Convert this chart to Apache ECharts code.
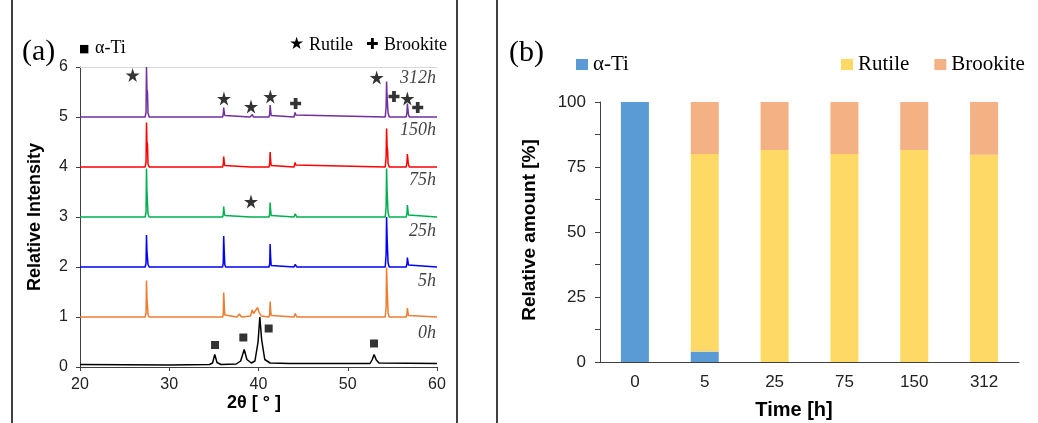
<!DOCTYPE html>
<html>
<head>
<meta charset="utf-8">
<title>XRD / phase amount</title>
<script src="https://cdn.jsdelivr.net/npm/echarts@6/dist/echarts.min.js"></script>
<style>
  html, body { margin: 0; padding: 0; background: #fff; }
  #main { width: 1038px; height: 423px; }
</style>
</head>
<body>
<div id="main"></div>
<script>
// (a) XRD patterns [2theta, relative intensity]
var t0 = [[20,0.05],[30,0.04],[34.5,0.05],[34.85,0.08],[35.1,0.25],[35.35,0.09],[35.8,0.05],[37.5,0.06],
  [38.0,0.12],[38.4,0.35],[38.7,0.15],[39.2,0.08],[39.6,0.12],[39.95,0.5],[40.15,1.0],[40.35,0.55],
  [40.7,0.15],[41.3,0.08],[43.5,0.07],[43.7,0.09],[43.9,0.07],[52.5,0.07],[52.75,0.15],[52.95,0.25],
  [53.2,0.14],[53.5,0.08],[60,0.07]];
var t5 = [[20,1.0],[27.3,1.0],[27.4,1.08],[27.45,1.73],[27.5,1.38],[27.56,1.35],[27.62,1.05],[27.75,1.0],
  [35.98,1.0],[36.05,1.05],[36.1,1.49],[36.16,1.27],[36.22,1.04],[36.32,1.0],
  [37.6,1.0],[37.85,1.06],[38.1,1.0],
  [39.1,1.02],[39.3,1.14],[39.45,1.07],[39.65,1.08],[39.9,1.19],[40.05,1.1],[40.3,1.02],
  [41.18,1.0],[41.26,1.06],[41.3,1.31],[41.36,1.15],[41.42,1.03],[41.52,1.0],
  [43.98,1.0],[44.1,1.07],[44.18,1.03],[44.3,1.0],
  [52.2,1.0],[52.4,1.04],[52.6,1.0],
  [54.2,1.0],[54.3,1.2],[54.35,1.99],[54.41,1.62],[54.46,1.58],[54.52,1.08],[54.65,1.0],
  [56.55,1.0],[56.64,1.06],[56.68,1.18],[56.74,1.1],[56.8,1.03],[56.9,1.0],[60,1.0]];
var t25 = [[20,2.0],[27.3,2.0],[27.4,2.08],[27.45,2.64],[27.5,2.32],[27.56,2.3],[27.62,2.05],[27.75,2.0],
  [35.98,2.0],[36.05,2.08],[36.1,2.62],[36.16,2.32],[36.22,2.05],[36.32,2.0],
  [39.1,2.0],[39.2,2.04],[39.3,2.0],
  [41.18,2.0],[41.26,2.07],[41.3,2.46],[41.36,2.2],[41.42,2.03],[41.52,2.0],
  [43.98,2.0],[44.1,2.05],[44.18,2.02],[44.3,2.0],
  [54.2,2.0],[54.3,2.25],[54.35,3.0],[54.41,2.58],[54.46,2.55],[54.52,2.08],[54.65,2.0],
  [56.55,2.0],[56.64,2.07],[56.68,2.19],[56.74,2.12],[56.8,2.04],[56.9,2.0],[60,2.0]];
var t75 = [[20,3.0],[27.3,3.0],[27.4,3.1],[27.45,3.97],[27.5,3.52],[27.56,3.5],[27.62,3.06],[27.75,3.0],
  [35.98,3.0],[36.05,3.05],[36.1,3.21],[36.16,3.1],[36.22,3.03],[36.32,3.0],
  [39.1,3.0],[39.2,3.04],[39.3,3.0],
  [41.18,3.0],[41.26,3.07],[41.3,3.29],[41.36,3.14],[41.42,3.03],[41.52,3.0],
  [43.98,3.0],[44.1,3.06],[44.18,3.03],[44.3,3.0],
  [54.2,3.0],[54.3,3.2],[54.35,3.97],[54.41,3.52],[54.46,3.5],[54.52,3.08],[54.65,3.0],
  [56.55,3.0],[56.64,3.08],[56.68,3.24],[56.74,3.14],[56.8,3.04],[56.9,3.0],[60,3.0]];
var t150 = [[20,4.0],[27.3,4.0],[27.4,4.1],[27.45,4.89],[27.5,4.5],[27.56,4.45],[27.62,4.06],[27.75,4.0],
  [35.98,4.0],[36.05,4.05],[36.1,4.21],[36.16,4.1],[36.22,4.03],[36.32,4.0],
  [39.1,4.0],[39.2,4.03],[39.3,4.0],
  [41.18,4.0],[41.26,4.08],[41.3,4.3],[41.36,4.14],[41.42,4.03],[41.52,4.0],
  [43.98,4.0],[44.1,4.09],[44.18,4.04],[44.3,4.0],
  [54.2,4.0],[54.3,4.2],[54.35,4.77],[54.41,4.4],[54.46,4.35],[54.52,4.07],[54.65,4.0],
  [56.55,4.0],[56.64,4.1],[56.68,4.26],[56.74,4.15],[56.8,4.05],[56.9,4.0],[60,4.0]];
var t312 = [[20,5.0],[27.3,5.0],[27.4,5.1],[27.45,6.0],[27.5,5.55],[27.56,5.5],[27.62,5.08],[27.75,5.0],
  [35.98,5.0],[36.05,5.06],[36.1,5.19],[36.16,5.1],[36.22,5.03],[36.32,5.0],
  [39.05,5.0],[39.15,5.04],[39.25,5.02],[39.32,5.05],[39.42,5.0],
  [41.18,5.0],[41.26,5.07],[41.3,5.24],[41.36,5.13],[41.42,5.03],[41.52,5.0],
  [43.98,5.0],[44.1,5.09],[44.18,5.04],[44.3,5.0],
  [54.2,5.0],[54.3,5.2],[54.35,5.71],[54.41,5.4],[54.46,5.36],[54.52,5.08],[54.65,5.0],
  [56.55,5.0],[56.64,5.1],[56.68,5.27],[56.74,5.16],[56.8,5.05],[56.9,5.0],[60,5.0]];

var curveNames = ['0h', '5h', '25h', '75h', '150h', '312h'];
var curveColors = ['#000000', '#ED7D31', '#0000FF', '#00B050', '#FF0000', '#7030A0'];
var curveLabelY = [0.67, 1.71, 2.71, 3.74, 4.74, 5.78];

// phase markers
var alphaTiMarks = [[35.13,0.44],[38.3,0.59],[41.14,0.77],[52.94,0.47]];
var rutileMarks = [[25.9,5.84],[36.13,5.37],[39.16,5.21],[41.33,5.41],[53.24,5.79],[56.68,5.37],[39.16,3.31]];
var brookiteMarks = [[44.16,5.27],[55.18,5.41],[57.84,5.19]];

// (b) relative amount [%]
var times = ['0', '5', '25', '75', '150', '312'];
var alphaTi = [100, 4, 0, 0, 0, 0];
var rutile = [0, 76, 81.5, 80, 81.5, 79.7];
var brookite = [0, 20, 18.5, 20, 18.5, 20.3];

var starPath = 'path://M50,0L61,35L98,35L68,57L79,91L50,70L21,91L32,57L2,35L39,35Z';
var crossPath = 'path://M33,0H67V33H100V67H67V100H33V67H0V33H33Z';

var sans = 'Liberation Sans';
var serif = 'Liberation Serif';
var axisCol = '#404040';

var traces = [t0, t5, t25, t75, t150, t312];
var series = traces.map(function (d, i) {
  return {
    name: curveNames[i], type: 'line', xAxisIndex: 0, yAxisIndex: 0,
    data: d, showSymbol: false, clip: true,
    lineStyle: { color: curveColors[i], width: 1.5 }, silent: true
  };
});

series.push({
  name: 'labels', type: 'scatter', xAxisIndex: 0, yAxisIndex: 0, symbolSize: 0, clip: false,
  data: curveLabelY.map(function (y, i) { return [59.9, y, curveNames[i]]; }),
  label: {
    show: true, position: 'inside', align: 'right', verticalAlign: 'middle',
    formatter: function (p) { return p.data[2]; },
    fontFamily: serif, fontStyle: 'italic', fontSize: 18, color: '#111'
  }
});
series.push({ name: 'mTi', type: 'scatter', xAxisIndex: 0, yAxisIndex: 0, symbol: 'rect', symbolSize: 8,
  data: alphaTiMarks, itemStyle: { color: '#000' }, clip: false });
series.push({ name: 'mRutile', type: 'scatter', xAxisIndex: 0, yAxisIndex: 0, symbol: starPath, symbolSize: 14,
  data: rutileMarks, itemStyle: { color: '#000' }, clip: false });
series.push({ name: 'mBrookite', type: 'scatter', xAxisIndex: 0, yAxisIndex: 0, symbol: crossPath, symbolSize: 11,
  data: brookiteMarks, itemStyle: { color: '#000' }, clip: false });

series.push({ name: 'α-Ti', type: 'bar', xAxisIndex: 2, yAxisIndex: 1, stack: 'amt', barWidth: 28,
  data: alphaTi, itemStyle: { color: '#5B9BD5' } });
series.push({ name: 'Rutile', type: 'bar', xAxisIndex: 2, yAxisIndex: 1, stack: 'amt', barWidth: 28,
  data: rutile, itemStyle: { color: '#FFD966' } });
series.push({ name: 'Brookite', type: 'bar', xAxisIndex: 2, yAxisIndex: 1, stack: 'amt', barWidth: 28,
  data: brookite, itemStyle: { color: '#F4B183' } });

function txt(s, x, y, font, opts) {
  var el = {
    type: 'text', x: x, y: y,
    style: { text: s, font: font, fill: '#000', textAlign: 'left', textVerticalAlign: 'middle',
      align: 'left', verticalAlign: 'middle' }
  };
  if (opts && opts.align) { el.style.textAlign = opts.align; el.style.align = opts.align; }
  if (opts && opts.rot) { el.rotation = opts.rot; }
  return el;
}
function vline(x) {
  return { type: 'line', shape: { x1: x, y1: 0, x2: x, y2: 423 }, style: { stroke: '#000', lineWidth: 1.5 } };
}

var chart = echarts.init(document.getElementById('main'));
var option = {
  animation: false,
  backgroundColor: '#fff',
  grid: [
    { left: 80, top: 67, width: 357, height: 300 },
    { left: 600, top: 102, width: 419, height: 260 }
  ],
  xAxis: [
    { type: 'value', gridIndex: 0, min: 20, max: 60, interval: 10,
      axisLine: { lineStyle: { color: axisCol } },
      axisTick: { length: 4, lineStyle: { color: axisCol } },
      axisLabel: { margin: 10, fontFamily: sans, fontSize: 16, color: '#222' },
      splitLine: { show: false } },
    { type: 'value', gridIndex: 0, min: 20, max: 60, position: 'top',
      axisLine: { lineStyle: { color: '#d9d9d9' } },
      axisTick: { show: false }, axisLabel: { show: false }, splitLine: { show: false } },
    { type: 'category', gridIndex: 1, data: times,
      axisLine: { lineStyle: { color: axisCol } },
      axisTick: { length: 5, lineStyle: { color: axisCol } },
      axisLabel: { margin: 12, fontFamily: sans, fontSize: 17, color: '#222' } }
  ],
  yAxis: [
    { type: 'value', gridIndex: 0, min: 0, max: 6, interval: 1,
      axisLine: { show: true, lineStyle: { color: axisCol } },
      axisTick: { show: true, length: 4, lineStyle: { color: axisCol } },
      axisLabel: { margin: 12, fontFamily: sans, fontSize: 16, color: '#222' },
      splitLine: { show: false } },
    { type: 'value', gridIndex: 1, min: 0, max: 100, interval: 12.5,
      axisLine: { show: true, lineStyle: { color: axisCol } },
      axisTick: { show: true, length: 5, lineStyle: { color: axisCol } },
      axisLabel: { margin: 14, fontFamily: sans, fontSize: 17, color: '#222',
        formatter: function (v) { return v % 25 === 0 ? v : ''; } },
      splitLine: { show: false } }
  ],
  legend: [
    { data: ['α-Ti'], left: 571, top: 49, itemWidth: 12, itemHeight: 11, selectedMode: false,
      icon: 'rect', textStyle: { fontFamily: serif, fontSize: 21, color: '#000' } },
    { data: ['Rutile', 'Brookite'], left: 836, top: 49, itemWidth: 12, itemHeight: 11, itemGap: 25,
      selectedMode: false, icon: 'rect', textStyle: { fontFamily: serif, fontSize: 21, color: '#000' } }
  ],
  graphic: [
    vline(12), vline(457), vline(497),
    txt('(a)', 22, 52, '30px ' + serif),
    txt('(b)', 509, 53, '30px ' + serif),
    txt('■', 79, 49, '11px DejaVu Sans'),
    txt('α-Ti', 95, 48, '18px ' + serif),
    txt('★', 289, 45, '17px DejaVu Sans'),
    txt('Rutile', 309, 45, '18px ' + serif),
    txt('✚', 366, 45, '15px DejaVu Sans'),
    txt('Brookite', 384, 45, '18px ' + serif),
    txt('Relative Intensity', 35, 217, 'bold 18px ' + sans, { align: 'center', rot: Math.PI / 2 }),
    txt('2θ [ ° ]', 254, 403, 'bold 18px ' + sans, { align: 'center' }),
    txt('Relative amount [%]', 530, 230, 'bold 19px ' + sans, { align: 'center', rot: Math.PI / 2 }),
    txt('Time [h]', 794, 410, 'bold 20px ' + sans, { align: 'center' })
  ],
  series: series
};
chart.setOption(option);
</script>
</body>
</html>
